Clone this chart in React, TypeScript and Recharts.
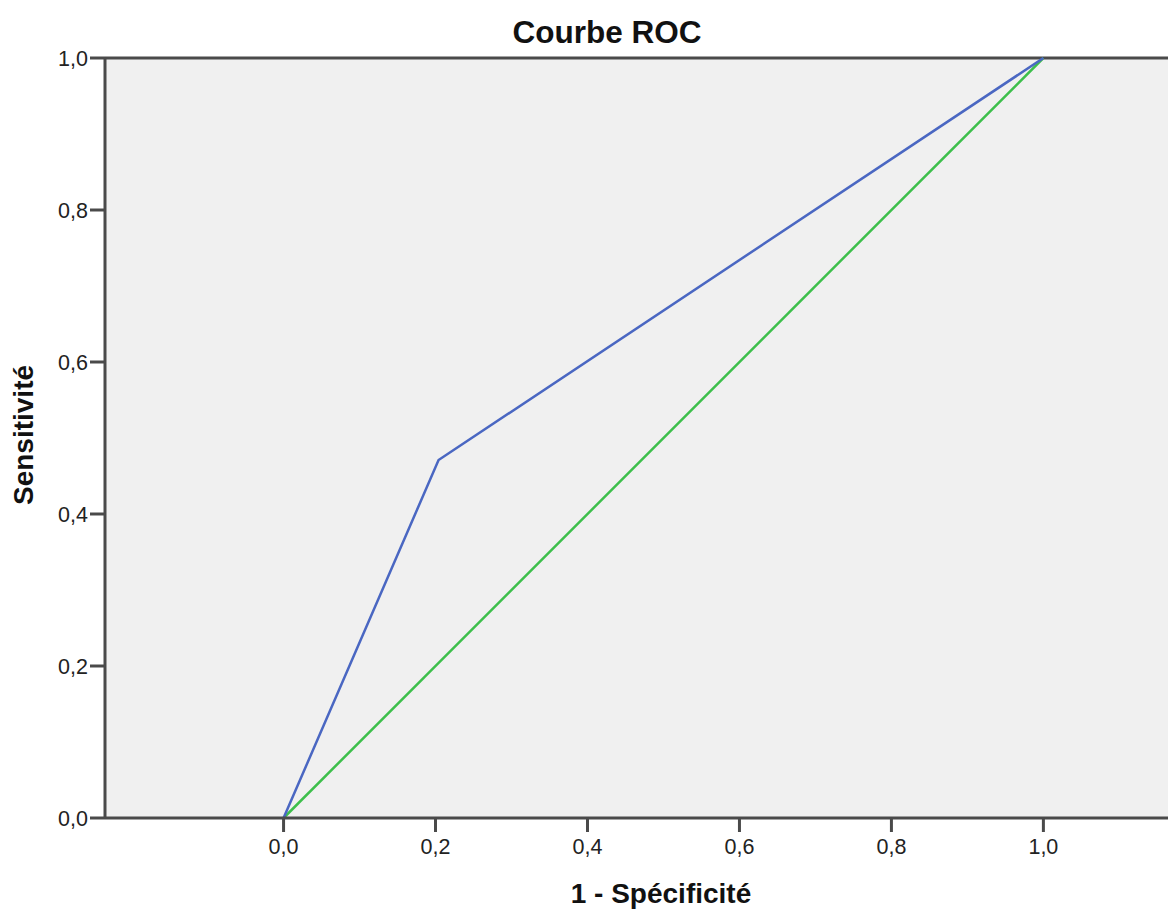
import React from 'react';
import { LineChart, Line, XAxis, YAxis, CartesianGrid, ReferenceLine } from 'recharts';

const rocCurve = [
  { x: 0, y: 0 },
  { x: 0.204, y: 0.471 },
  { x: 1, y: 1 },
];
const diagonal = [
  { x: 0, y: 0 },
  { x: 1, y: 1 },
];
const xTicks = [0, 0.2, 0.4, 0.6, 0.8, 1.0];
const yTicks = [0, 0.2, 0.4, 0.6, 0.8, 1.0];
const title = 'Courbe ROC';
const xLabel = '1 - Spécificité';
const yLabel = 'Sensitivité';

const fmt = (v: number) => v.toFixed(1).replace('.', ',');
const FONT = '"Liberation Sans", Arial, sans-serif';
const AXIS = '#4a4a4a';

export default function App() {
  return (
    <div style={{ position: 'absolute', left: 0, top: 0, width: 1168, height: 912, background: '#fff' }}>
      <LineChart width={1168} height={912} margin={{ top: 58, right: 0, bottom: 0, left: 0 }}>
        <CartesianGrid horizontal={false} vertical={false} fill="#f0f0f0" />
        <XAxis
          dataKey="x"
          type="number"
          domain={[-0.235, 1.164]}
          allowDataOverflow
          ticks={xTicks}
          tickFormatter={fmt}
          height={94}
          tickSize={14}
          tickMargin={7}
          stroke={AXIS}
          strokeWidth={3}
          tick={{ fill: '#222', fontSize: 21.5, fontFamily: FONT }}
          tickLine={{ stroke: AXIS, strokeWidth: 3 }}
        />
        <YAxis
          dataKey="y"
          type="number"
          domain={[0, 1]}
          ticks={yTicks}
          tickFormatter={fmt}
          width={105}
          tickSize={15}
          tickMargin={2}
          stroke={AXIS}
          strokeWidth={3}
          tick={{ fill: '#222', fontSize: 21.5, fontFamily: FONT }}
          tickLine={{ stroke: AXIS, strokeWidth: 3 }}
        />
        <ReferenceLine y={1} stroke={AXIS} strokeWidth={3} />
        <Line data={diagonal} dataKey="y" stroke="#3dbf4b" strokeWidth={2.5} dot={false} isAnimationActive={false} />
        <Line data={rocCurve} dataKey="y" stroke="#4a67c2" strokeWidth={2.5} dot={false} isAnimationActive={false} />
        <text x={607} y={43} textAnchor="middle" fontFamily={FONT} fontWeight="bold" fontSize={31.5} fill="#111">
          {title}
        </text>
        <text x={661} y={903} textAnchor="middle" fontFamily={FONT} fontWeight="bold" fontSize={28} fill="#111">
          {xLabel}
        </text>
        <text x={33} y={435} textAnchor="middle" transform="rotate(-90 33 435)" fontFamily={FONT} fontWeight="bold" fontSize={28} fill="#111">
          {yLabel}
        </text>
      </LineChart>
    </div>
  );
}
